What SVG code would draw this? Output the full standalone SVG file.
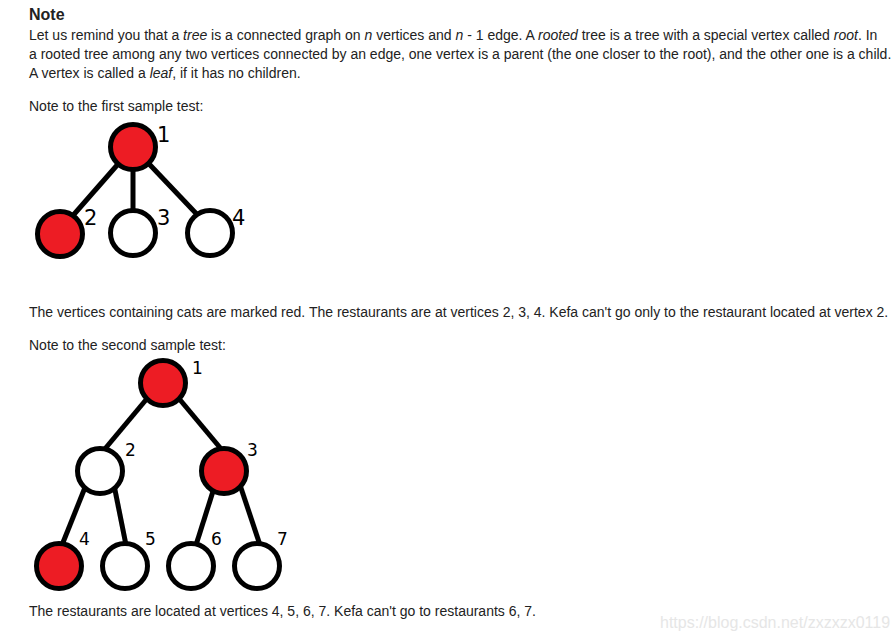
<svg xmlns="http://www.w3.org/2000/svg" width="896" height="632" viewBox="0 0 896 632">
<style>
text{font-family:"Liberation Sans",Arial,sans-serif;fill:#222}
.t{font-size:14px}
.h{font-size:16px;font-weight:bold}
.lbl1{font-family:"DejaVu Sans",sans-serif;font-size:21px;fill:#000}
.lbl2{font-family:"DejaVu Sans",sans-serif;font-size:17px;fill:#000}
.e{stroke:#000;stroke-width:5;fill:none}
.r{fill:#ed1c24;stroke:#000;stroke-width:5}
.w{fill:#fff;stroke:#000;stroke-width:5}
.wm{font-size:16px;fill:#e6e6e6}
</style>
<rect width="896" height="632" fill="#fff"/>
<g id="text">
<text class="h" x="29" y="20">Note</text>
<text class="t" x="29" y="40">Let us remind you that a <tspan font-style="italic">tree</tspan> is a connected graph on <tspan font-style="italic">n</tspan> vertices and <tspan font-style="italic">n</tspan> - 1 edge. A <tspan font-style="italic">rooted</tspan> tree is a tree with a special vertex called <tspan font-style="italic">root</tspan>. In</text>
<text class="t" x="29" y="59">a rooted tree among any two vertices connected by an edge, one vertex is a parent (the one closer to the root), and the other one is a child.</text>
<text class="t" x="29" y="78">A vertex is called a <tspan font-style="italic">leaf</tspan>, if it has no children.</text>
<text class="t" x="29" y="111">Note to the first sample test:</text>
<text class="t" x="29" y="317">The vertices containing cats are marked red. The restaurants are at vertices 2, 3, 4. Kefa can't go only to the restaurant located at vertex 2.</text>
<text class="t" x="29" y="350">Note to the second sample test:</text>
<text class="t" x="29" y="616">The restaurants are located at vertices 4, 5, 6, 7. Kefa can't go to restaurants 6, 7.</text>
<text class="wm" x="660" y="628">https://blog.csdn.net/zxzxzx0119</text>
</g>
<g id="connectors">
<line class="e" x1="133" y1="147" x2="62" y2="228"/>
<line class="e" x1="133" y1="147" x2="133" y2="228"/>
<line class="e" x1="133" y1="147" x2="208" y2="226"/>
<line class="e" x1="150" y1="395" x2="104" y2="450"/>
<line class="e" x1="176" y1="395" x2="222" y2="450"/>
<line class="e" x1="86" y1="485" x2="62" y2="545"/>
<line class="e" x1="114" y1="485" x2="126" y2="545"/>
<line class="e" x1="215" y1="485" x2="196" y2="545"/>
<line class="e" x1="240" y1="485" x2="260" y2="545"/>
</g>
<g id="t1n1"><circle class="r" cx="133" cy="147" r="22.5"/><text class="lbl1" x="157" y="142">1</text></g>
<g id="t1n2"><circle class="r" cx="60" cy="234" r="22.5"/><text class="lbl1" x="84" y="225">2</text></g>
<g id="t1n3"><circle class="w" cx="133" cy="233" r="22.5"/><text class="lbl1" x="157" y="225">3</text></g>
<g id="t1n4"><circle class="w" cx="210" cy="233" r="22.5"/><text class="lbl1" x="232" y="225">4</text></g>
<g id="t2n1"><circle class="r" cx="163" cy="383" r="22.5"/><text class="lbl2" x="192" y="374">1</text></g>
<g id="t2n2"><circle class="w" cx="100" cy="471" r="22.5"/><text class="lbl2" x="125" y="456">2</text></g>
<g id="t2n3"><circle class="r" cx="224" cy="471" r="22.5"/><text class="lbl2" x="247" y="456">3</text></g>
<g id="t2n4"><circle class="r" cx="59" cy="566" r="22.5"/><text class="lbl2" x="79" y="545">4</text></g>
<g id="t2n5"><circle class="w" cx="125" cy="566" r="22.5"/><text class="lbl2" x="145" y="545">5</text></g>
<g id="t2n6"><circle class="w" cx="191" cy="566" r="22.5"/><text class="lbl2" x="211" y="545">6</text></g>
<g id="t2n7"><circle class="w" cx="257" cy="566" r="22.5"/><text class="lbl2" x="277" y="545">7</text></g>
</svg>
